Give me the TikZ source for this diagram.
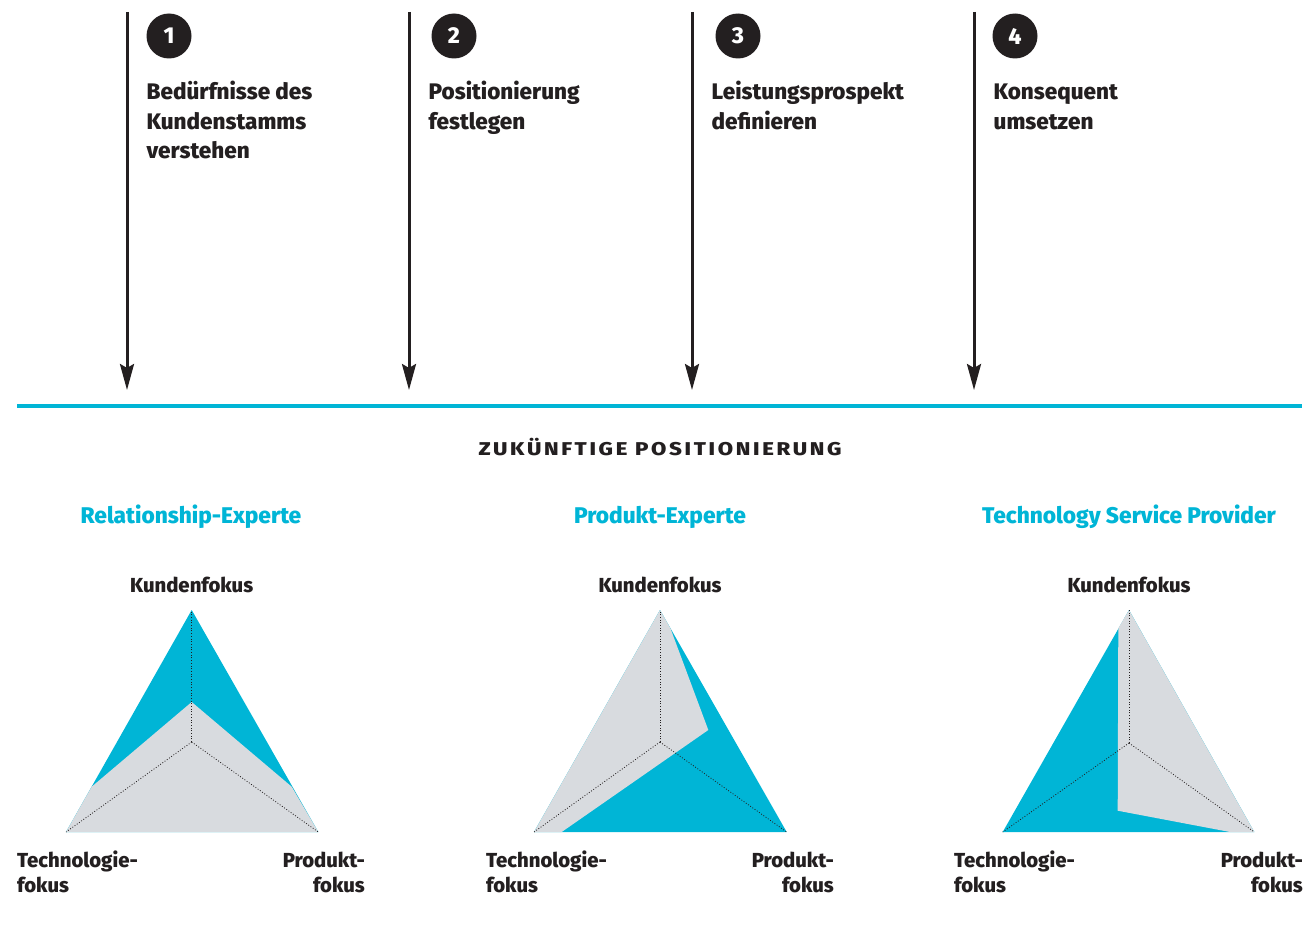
\documentclass[tikz,border=0pt]{standalone}
\usepackage{fontspec}
\setmainfont{Fira Sans}[BoldFont={Fira Sans ExtraBold}]
\usetikzlibrary{arrows.meta}
\definecolor{ink}{HTML}{231F20}
\definecolor{cyanb}{HTML}{00B5D6}
\definecolor{greyf}{HTML}{D8DBDF}
\tikzset{
  arr/.style={line width=3pt, draw=ink, -{Stealth[length=26pt,width=14pt,inset=4pt]}},
  numc/.style={circle, fill=ink, text=white, minimum size=45pt, inner sep=0pt, font=\bfseries\fontsize{23}{23}\selectfont},
  steptxt/.style={anchor=north west, inner sep=0pt, align=left, text=ink, font=\bfseries\fontsize{22.5}{29.5}\selectfont},
  ttl/.style={anchor=base, inner sep=0pt, text=cyanb, font=\bfseries\fontsize{22.7}{26}\selectfont},
  axlbl/.style={inner sep=0pt, text=ink, font=\bfseries\fontsize{20.3}{25.5}\selectfont},
  dots/.style={draw=ink, line width=0.8pt, dash pattern=on 0.9pt off 1.8pt},
}
\begin{document}
\begin{tikzpicture}[x=1pt,y=-1pt]
\useasboundingbox (0,0) rectangle (1304,942);
% vertical arrows
\foreach \i/\x in {1/127,2/409,3/692,4/974}{
  \coordinate (s\i) at (\x,12);
  \coordinate (e\i) at (\x,390);
  \draw[arr] (s\i) -- (e\i);
}
% numbered circles
\node[numc] (n1) at (169,36) {1};
\node[numc] (n2) at (454,36) {2};
\node[numc] (n3) at (738,36) {3};
\node[numc] (n4) at (1015,36) {4};
% step texts
\node[steptxt] (t1) at (146.5,78.9) {\strut Bedürfnisse des\\Kundenstamms\\verstehen};
\node[steptxt] (t2) at (428.5,78.9) {\strut Positionierung\\festlegen};
\node[steptxt] (t3) at (711.5,78.9) {\strut Leistungsprospekt\\definieren};
\node[steptxt] (t4) at (993.5,78.9) {\strut Konsequent\\umsetzen};
% cyan line
\coordinate (h1) at (17,406);
\coordinate (h2) at (1302,406);
\draw[cyanb, line width=4pt] (h1) -- (h2);
% heading
\node[anchor=base, inner sep=0pt, text=ink, font=\bfseries\fontsize{18.5}{22}\selectfont\addfontfeature{LetterSpace=12}] (head) at (660,455.5) {\scalebox{1.2}[1]{ZUKÜNFTIGE POSITIONIERUNG}};
% titles
\node[ttl] (ti1) at (191,523.5) {Relationship-Experte};
\node[ttl] (ti2) at (660,523.5) {Produkt-Experte};
\node[ttl] (ti3) at (1129,523.5) {Technology Service Provider};

% ---- triangle 1
\coordinate (a1) at (191.7,610);
\coordinate (c1) at (191.7,742);
\coordinate (l1) at (66,832);
\coordinate (r1) at (318.3,832);
\fill[cyanb] (a1) -- (r1) -- (l1) -- cycle;
\fill[greyf] (191.7,702) -- (291.7,786.7) -- (r1) -- (l1) -- (91.7,786.7) -- cycle;
\draw[dots] (c1) -- (a1);
\draw[dots] (c1) -- (l1);
\draw[dots] (c1) -- (r1);
% ---- triangle 2
\coordinate (a2) at (660,610);
\coordinate (c2) at (660,742);
\coordinate (l2) at (534,832);
\coordinate (r2) at (786.7,832);
\fill[cyanb] (a2) -- (r2) -- (l2) -- cycle;
\fill[greyf] (a2) -- (670.4,628.3) -- (708.3,730) -- (561.7,832) -- (l2) -- cycle;
\draw[dots] (c2) -- (a2);
\draw[dots] (c2) -- (l2);
\draw[dots] (c2) -- (r2);
% ---- triangle 3
\coordinate (a3) at (1129,610);
\coordinate (c3) at (1129,743);
\coordinate (l3) at (1002.7,832);
\coordinate (r3) at (1254.3,832);
\fill[cyanb] (a3) -- (r3) -- (l3) -- cycle;
\fill[greyf] (a3) -- (1118.3,628.3) -- (1117.7,810.7) -- (1230,832) -- (r3) -- cycle;
\draw[dots] (c3) -- (a3);
\draw[dots] (c3) -- (l3);
\draw[dots] (c3) -- (r3);

% axis labels
\foreach \k/\cx/\lx/\rx in {1/191.7/17/365, 2/660/486/834, 3/1129/954/1303}{
  \node[axlbl, anchor=base] (k\k) at (\cx,592) {Kundenfokus};
  \node[axlbl, anchor=base west, align=left] (tl\k) at (\lx,867) {Technologie-};
  \node[axlbl, anchor=base west, align=left] (tf\k) at (\lx,892) {fokus};
  \node[axlbl, anchor=base east, align=right] (pl\k) at (\rx,867) {Produkt-};
  \node[axlbl, anchor=base east, align=right] (pf\k) at (\rx,892) {fokus};
}
\end{tikzpicture}
\end{document}
